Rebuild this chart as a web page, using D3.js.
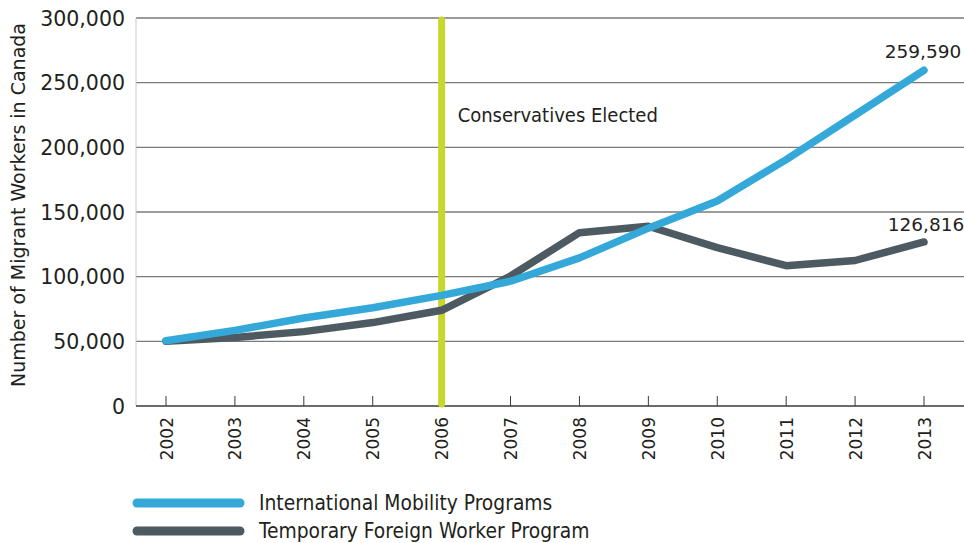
<!DOCTYPE html>
<html>
<head>
<meta charset="utf-8">
<script src="https://cdn.jsdelivr.net/npm/d3@7"></script>
<style>
  body { margin: 0; background: #fff; }
  text { font-family: "DejaVu Sans", sans-serif; fill: #231f20; }
  .cond { font-family: "Liberation Sans Narrow", "DejaVu Sans Condensed", "Open Sans", sans-serif; }
</style>
</head>
<body>
<div class="chart"></div>
<script>
var width = 964;
var height = 543;

var years = ["2002", "2003", "2004", "2005", "2006", "2007", "2008", "2009", "2010", "2011", "2012", "2013"];
var mobility = [50500, 58500, 68000, 76000, 85500, 96500, 114500, 137500, 158500, 190500, 225000, 259590];
var tfwp = [50000, 53000, 57500, 64500, 74000, 100500, 134000, 139000, 122500, 108500, 112500, 126816];
var yTicks = [0, 50000, 100000, 150000, 200000, 250000, 300000];
var seriesNames = ["International Mobility Programs", "Temporary Foreign Worker Program"];
var seriesColors = ["#34a9d9", "#4e5a62"];
var eventYear = "2006";
var eventLabel = "Conservatives Elected";

var plotLeft = 136, plotRight = 964, plotTop = 18, plotBottom = 406;

var svg = d3.select(".chart").append("svg").attr("width", width).attr("height", height);

var x = d3.scalePoint().domain(years).range([166, 924]);
var y = d3.scaleLinear().domain([0, 300000]).range([plotBottom, plotTop]);

// grid
svg.append("g").selectAll("line").data(yTicks.slice(1)).enter().append("line")
  .attr("x1", plotLeft).attr("x2", plotRight)
  .attr("y1", function (d) { return y(d); }).attr("y2", function (d) { return y(d); })
  .attr("stroke", "#7a7a7a").attr("stroke-width", 1.3);

// left axis line
svg.append("line").attr("x1", plotLeft).attr("x2", plotLeft).attr("y1", plotTop).attr("y2", plotBottom)
  .attr("stroke", "#c8c8c8").attr("stroke-width", 1);

// y labels
svg.append("g").selectAll("text").data(yTicks).enter().append("text")
  .attr("x", plotLeft - 11).attr("y", function (d) { return y(d) + 7.5; })
  .attr("text-anchor", "end").style("font-size", "20.5px")
  .text(function (d) { return d3.format(",")(d); });

svg.append("text")
  .attr("transform", "translate(25," + 205 + ") rotate(-90)")
  .attr("text-anchor", "middle").style("font-size", "19px")
  .text("Number of Migrant Workers in Canada");

// x axis
svg.append("line").attr("x1", plotLeft).attr("x2", plotRight).attr("y1", plotBottom).attr("y2", plotBottom)
  .attr("stroke", "#3a3a3a").attr("stroke-width", 1.5);
svg.append("g").selectAll("line").data(years).enter().append("line")
  .attr("x1", function (d) { return x(d); }).attr("x2", function (d) { return x(d); })
  .attr("y1", plotBottom).attr("y2", plotBottom - 10)
  .attr("stroke", "#3a3a3a").attr("stroke-width", 1);
svg.append("g").selectAll("text").data(years).enter().append("text")
  .attr("transform", function (d) { return "translate(" + (x(d) + 6.5) + "," + (plotBottom + 11) + ") rotate(-90)"; })
  .attr("text-anchor", "end").style("font-size", "17px")
  .text(function (d) { return d; });

// event line
svg.append("line")
  .attr("x1", x(eventYear)).attr("x2", x(eventYear)).attr("y1", plotTop + 2).attr("y2", plotBottom - 2)
  .attr("stroke", "#c6d82b").attr("stroke-width", 7).attr("stroke-linecap", "round");
svg.append("text").attr("class", "cond")
  .attr("x", x(eventYear) + 16).attr("y", 122).style("font-size", "20px")
  .text(eventLabel);

// series
var line = d3.line().x(function (d, i) { return x(years[i]); }).y(function (d) { return y(d); });
[tfwp, mobility].forEach(function (s) {
  var idx = s === mobility ? 0 : 1;
  svg.append("path").attr("d", line(s))
    .attr("fill", "none").attr("stroke", seriesColors[idx]).attr("stroke-width", 7.5)
    .attr("stroke-linecap", "round").attr("stroke-linejoin", "round");
});

// end labels
svg.append("text").attr("x", x("2013") - 1).attr("y", y(mobility[11]) - 12)
  .attr("text-anchor", "middle").style("font-size", "18.5px")
  .text(d3.format(",")(mobility[11]));
svg.append("text").attr("x", x("2013") + 2).attr("y", y(tfwp[11]) - 11)
  .attr("text-anchor", "middle").style("font-size", "18.5px")
  .text(d3.format(",")(tfwp[11]));

// legend
var legend = svg.append("g").selectAll("g").data(seriesNames).enter().append("g")
  .attr("transform", function (d, i) { return "translate(0," + (503 + i * 28) + ")"; });
legend.append("line").attr("x1", 137).attr("x2", 240)
  .attr("stroke", function (d, i) { return seriesColors[i]; })
  .attr("stroke-width", 9).attr("stroke-linecap", "round");
legend.append("text").attr("class", "cond").attr("x", 259).attr("y", 7)
  .style("font-size", "20.8px").text(function (d) { return d; });
</script>
</body>
</html>
